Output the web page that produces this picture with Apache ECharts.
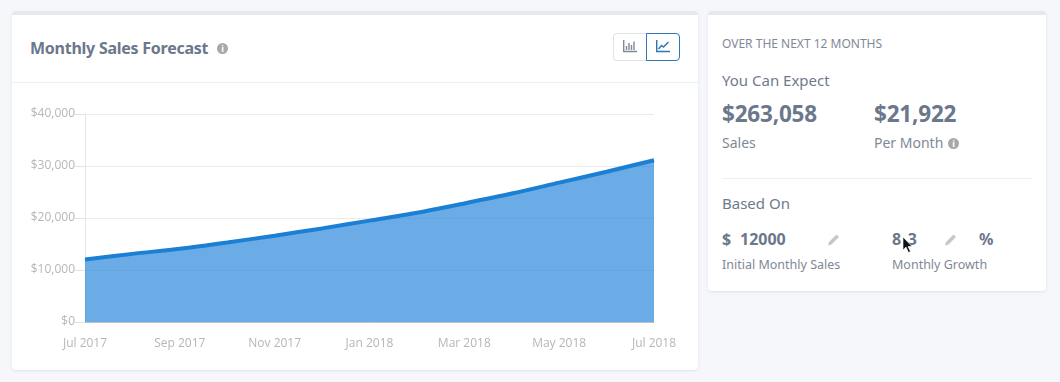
<!DOCTYPE html>
<html>
<head>
<meta charset="utf-8">
<script src="https://cdn.jsdelivr.net/npm/echarts@6/dist/echarts.min.js"></script>
<style>
  html, body { margin: 0; padding: 0; width: 1060px; height: 382px; overflow: hidden; background: #f5f7fb; }
  body { font-family: "Noto Sans", sans-serif; color: #6f7a8c; position: relative; }
  .card { position: absolute; background: #fff; border-top: 4px solid #e3e9ef; border-radius: 4px; box-shadow: 0 1px 3px rgba(60,80,110,.12); box-sizing: border-box; }
  .t { position: absolute; white-space: nowrap; line-height: 1; }
  .b { font-weight: 700; color: #6b778b; }
  .info { position: absolute; width: 11px; height: 11px; border-radius: 50%; background: #a6a9ac; color: #fff; font: 700 9px/11px "Noto Sans", sans-serif; text-align: center; }
  .rule { position: absolute; height: 1px; background: #edf0f3; }
  #chart { position: absolute; left: 0; top: 90px; width: 700px; height: 275px; }
  .btn { position: absolute; top: 33px; height: 28px; box-sizing: border-box; background: #fff; }
  svg { position: absolute; }
</style>
</head>
<body>
<div class="card" style="left:12px;top:11px;width:686px;height:359px"></div>
<div class="card" style="left:708px;top:11px;width:338px;height:280px"></div>

<div class="t b" style="left:30px;top:40px;font-size:16px;letter-spacing:-.25px">Monthly Sales Forecast</div>
<div class="info" style="left:217px;top:43px">i</div>
<div class="rule" style="left:12px;top:82px;width:686px"></div>

<div class="btn" style="left:613px;width:34px;border:1px solid #dfe3e8;border-right:0;border-radius:4px 0 0 4px"></div>
<div class="btn" style="left:646px;width:34px;border:1px solid #2f78b5;border-radius:0 4px 4px 0"></div>
<svg style="left:623px;top:40px" width="14" height="13" viewBox="0 0 14 13" fill="none" stroke="#7f8996" stroke-width="1.4">
  <path d="M.7 0V11.5H14"/><path d="M3.5 10V6M6 10V3M8.5 10V5M11 10V1.5"/>
</svg>
<svg style="left:656px;top:40px" width="14" height="13" viewBox="0 0 14 13" fill="none" stroke="#2f78b5" stroke-width="1.5">
  <path d="M.7 0V11.5H14"/><path d="M2.5 9L5.5 5.5 7.5 7 12.5 2"/>
</svg>

<div id="chart"></div>

<div class="t" style="left:722px;top:38px;font-size:12px;color:#7f8896">OVER THE NEXT 12 MONTHS</div>
<div class="t" style="left:722px;top:73px;font-size:15px">You Can Expect</div>
<div class="t b" style="left:722px;top:103px;font-size:22.5px;letter-spacing:-.2px">$263,058</div>
<div class="t b" style="left:874px;top:103px;font-size:22.5px;letter-spacing:-.2px">$21,922</div>
<div class="t" style="left:722px;top:136px;font-size:14px;color:#7f8896">Sales</div>
<div class="t" style="left:874px;top:136px;font-size:14px;color:#7f8896">Per Month</div>
<div class="info" style="left:948px;top:138px">i</div>
<div class="rule" style="left:722px;top:178px;width:310px"></div>

<div class="t" style="left:722px;top:196px;font-size:15px">Based On</div>
<div class="t b" style="left:722px;top:231px;font-size:16px">$</div>
<div class="t b" style="left:740px;top:231px;font-size:16px">12000</div>
<div class="t b" style="left:892px;top:231px;font-size:16px;letter-spacing:1px">8.3</div>
<div class="t b" style="left:979px;top:231px;font-size:16px">%</div>
<svg style="left:827px;top:233px" width="14" height="13" viewBox="0 0 14 13" fill="#c4c7cb"><path d="M1 12.5L2 9 9.5 1.5 12 4 4.5 11.5z"/></svg>
<svg style="left:944px;top:233px" width="14" height="13" viewBox="0 0 14 13" fill="#c4c7cb"><path d="M1 12.5L2 9 9.5 1.5 12 4 4.5 11.5z"/></svg>
<div class="t" style="left:722px;top:259px;font-size:12.5px;color:#7f8896">Initial Monthly Sales</div>
<div class="t" style="left:892px;top:259px;font-size:12.5px;color:#7f8896">Monthly Growth</div>
<svg style="left:902px;top:236px" width="12" height="18" viewBox="0 0 12 18"><path d="M1 1V14L4 11 6.5 16.5 8.5 15.5 6 10.5H10z" fill="#111" stroke="#fff" stroke-width=".6"/></svg>

<script>
const months = ["Jul 2017", "Aug 2017", "Sep 2017", "Oct 2017", "Nov 2017", "Dec 2017", "Jan 2018",
  "Feb 2018", "Mar 2018", "Apr 2018", "May 2018", "Jun 2018", "Jul 2018"];
const sales = [12000, 13100, 14100, 15300, 16600, 18000, 19500, 21000, 22800, 24700, 26800, 28900, 31100];
const yTicks = { min: 0, max: 40000, interval: 10000 };

const chart = echarts.init(document.getElementById("chart"));

const labelFont = { color: "#b4b6b9", fontSize: 12, fontFamily: "Open Sans, sans-serif" };

chart.setOption({
  animation: false,
  grid: { left: 85, top: 24, width: 569, height: 208 },
  xAxis: {
    type: "category",
    data: months,
    boundaryGap: false,
    axisLine: { lineStyle: { color: "#b9c0c8" } },
    axisTick: { show: false },
    axisLabel: { ...labelFont, interval: 1, margin: 16, hideOverlap: false },
  },
  yAxis: {
    type: "value",
    ...yTicks,
    axisLine: { show: true, lineStyle: { color: "#e4e6e9" } },
    axisTick: { show: true, length: 10, lineStyle: { color: "#e0e2e5" } },
    axisLabel: { ...labelFont, margin: 10, padding: [4, 0, 0, 0], formatter: (v) => "$" + v.toLocaleString("en-US") },
    splitLine: { lineStyle: { color: "#e9ebee" } },
  },
  series: [
    {
      type: "line",
      data: sales,
      smooth: 0.3,
      showSymbol: false,
      lineStyle: { color: "#1b7fd4", width: 4 },
      areaStyle: { color: "#1b80d8", opacity: 0.65 },
      z: 3,
    },
  ],
});
</script>
</body>
</html>
